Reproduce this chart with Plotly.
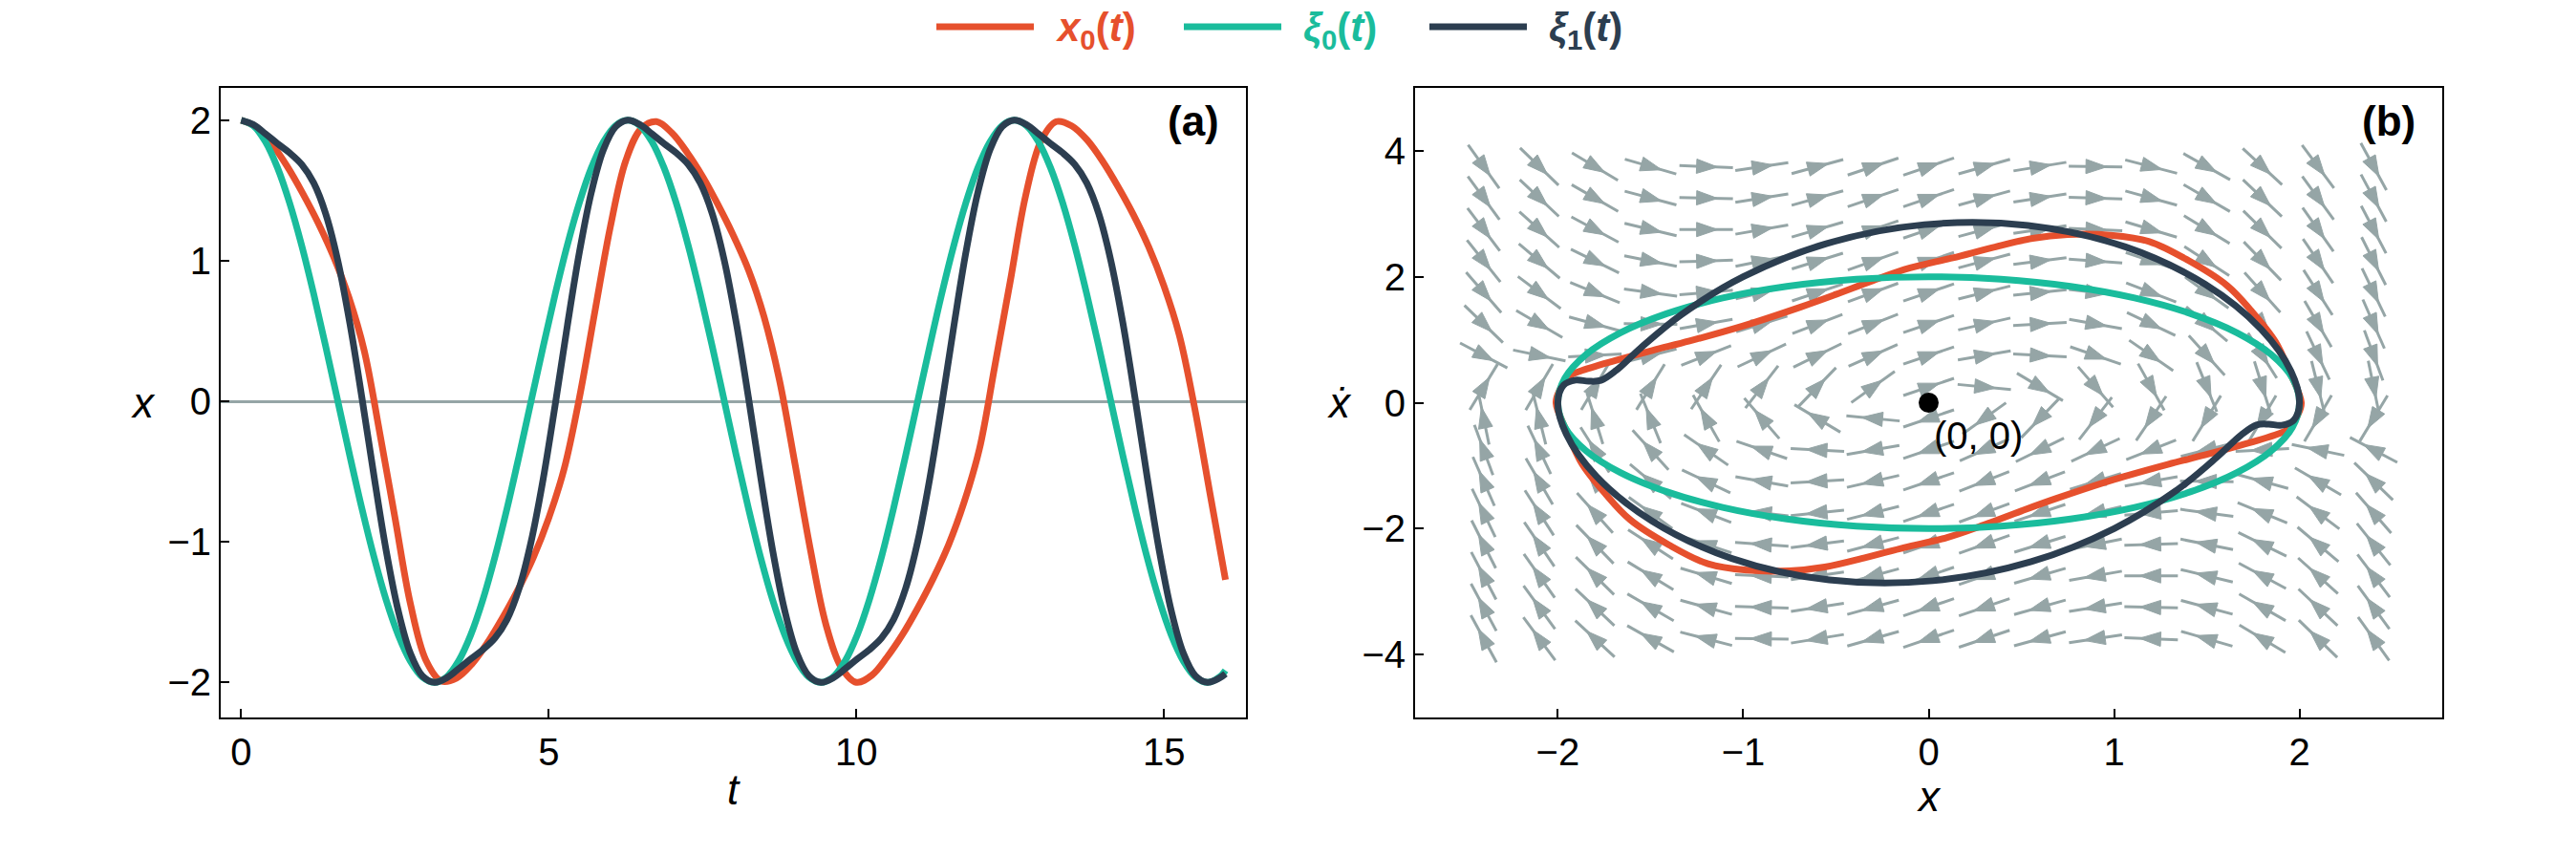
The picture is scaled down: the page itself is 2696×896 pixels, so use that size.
import math
import plotly.graph_objects as go

# ---------------------------------------------------------------- data
# panel (a): time series
t_x0 = [0.0, 0.25, 0.5, 0.75, 1.0, 1.25, 1.5, 1.75, 2.0, 2.25, 2.5, 2.75, 3.0, 3.25, 3.5, 3.75,
        4.0, 4.25, 4.5, 4.75, 5.0, 5.25, 5.5, 5.75, 6.0, 6.25, 6.5, 6.75, 7.0, 7.25, 7.5, 7.75,
        8.0, 8.25, 8.5, 8.75, 9.0, 9.25, 9.5, 9.75, 10.0, 10.25, 10.5, 10.75, 11.0, 11.25, 11.5,
        11.75, 12.0, 12.25, 12.5, 12.75, 13.0, 13.25, 13.5, 13.75, 14.0, 14.25, 14.5, 14.75,
        15.0, 15.25, 15.5, 15.75, 16.0]
x0_vals = [2.00, 1.95, 1.83, 1.67, 1.48, 1.27, 1.03, 0.74, 0.36, -0.22, -0.83, -1.44, -1.84, -1.99,
           -1.97, -1.87, -1.72, -1.54, -1.34, -1.11, -0.83, -0.48, 0.03, 0.64, 1.24, 1.71, 1.94,
           1.99, 1.91, 1.77, 1.60, 1.40, 1.18, 0.93, 0.60, 0.15, -0.44, -1.05, -1.58, -1.89, -2.00,
           -1.95, -1.82, -1.66, -1.47, -1.26, -1.02, -0.72, -0.34, 0.25, 0.85, 1.46, 1.85, 1.99,
           1.96, 1.86, 1.71, 1.53, 1.33, 1.10, 0.82, 0.47, -0.05, -0.66, -1.27]

t_xi = [0.0, 0.196, 0.393, 0.589, 0.785, 0.982, 1.178, 1.374, 1.571, 1.767, 1.963, 2.160, 2.356,
        2.553, 2.749, 2.945, 3.142, 3.338, 3.534, 3.731, 3.927, 4.123, 4.320, 4.516, 4.712, 4.909,
        5.105, 5.301, 5.498, 5.694, 5.890, 6.087, 6.283, 6.480, 6.676, 6.872, 7.069, 7.265, 7.461,
        7.658, 7.854, 8.050, 8.247, 8.443, 8.639, 8.836, 9.032, 9.228, 9.425, 9.621, 9.817, 10.014,
        10.210, 10.407, 10.603, 10.799, 10.996, 11.192, 11.388, 11.585, 11.781, 11.977, 12.174,
        12.370, 12.566, 12.763, 12.959, 13.155, 13.352, 13.548, 13.744, 13.941, 14.137, 14.334,
        14.530, 14.726, 14.923, 15.119, 15.315, 15.512, 15.708, 15.904, 16.0]
xi0_vals = [2.0, 1.962, 1.848, 1.663, 1.414, 1.111, 0.765, 0.390, 0.0, -0.390, -0.765, -1.111,
            -1.414, -1.663, -1.848, -1.962, -2.0, -1.962, -1.848, -1.663, -1.414, -1.111, -0.765,
            -0.390, 0.0, 0.390, 0.765, 1.111, 1.414, 1.663, 1.848, 1.962,
            2.0, 1.962, 1.848, 1.663, 1.414, 1.111, 0.765, 0.390, 0.0, -0.390, -0.765, -1.111,
            -1.414, -1.663, -1.848, -1.962, -2.0, -1.962, -1.848, -1.663, -1.414, -1.111, -0.765,
            -0.390, 0.0, 0.390, 0.765, 1.111, 1.414, 1.663, 1.848, 1.962,
            2.0, 1.962, 1.848, 1.663, 1.414, 1.111, 0.765, 0.390, 0.0, -0.390, -0.765, -1.111,
            -1.414, -1.663, -1.848, -1.962, -2.0, -1.962, -1.915]
xi1_vals = [2.0, 1.969, 1.904, 1.834, 1.768, 1.686, 1.554, 1.334, 1.0, 0.553, 0.023, -0.536,
            -1.061, -1.491, -1.792, -1.954, -2.0, -1.969, -1.904, -1.834, -1.768, -1.686, -1.554,
            -1.334, -1.0, -0.553, -0.023, 0.536, 1.061, 1.491, 1.792, 1.954,
            2.0, 1.969, 1.904, 1.834, 1.768, 1.686, 1.554, 1.334, 1.0, 0.553, 0.023, -0.536,
            -1.061, -1.491, -1.792, -1.954, -2.0, -1.969, -1.904, -1.834, -1.768, -1.686, -1.554,
            -1.334, -1.0, -0.553, -0.023, 0.536, 1.061, 1.491, 1.792, 1.954,
            2.0, 1.969, 1.904, 1.834, 1.768, 1.686, 1.554, 1.334, 1.0, 0.553, 0.023, -0.536,
            -1.061, -1.491, -1.792, -1.954, -2.0, -1.969, -1.939]

# panel (b): phase-plane loops (x, x-dot)
x0_phase_x = [2.01, 1.99, 1.94, 1.88, 1.69, 1.49, 1.29, 1.0, 0.69, 0.5, 0.3, 0.1, -0.13, -0.34,
              -0.56, -0.75, -0.98, -1.19, -1.40, -1.61, -1.74, -1.87, -1.95, -2.01, -1.99, -1.94,
              -1.88, -1.69, -1.49, -1.29, -1.0, -0.69, -0.5, -0.3, -0.1, 0.13, 0.34, 0.56, 0.75,
              0.98, 1.19, 1.40, 1.61, 1.74, 1.87, 1.95, 2.01]
x0_phase_v = [0.0, -0.2, -0.42, -0.50, -0.67, -0.83, -0.98, -1.22, -1.52, -1.72, -1.94, -2.14,
              -2.30, -2.46, -2.61, -2.67, -2.66, -2.56, -2.26, -1.86, -1.46, -0.97, -0.47, 0.0,
              0.2, 0.42, 0.50, 0.67, 0.83, 0.98, 1.22, 1.52, 1.72, 1.94, 2.14, 2.30, 2.46, 2.61,
              2.67, 2.66, 2.56, 2.26, 1.86, 1.46, 0.97, 0.47, 0.0]
xi0_phase_x = [2.0, 1.962, 1.848, 1.663, 1.414, 1.111, 0.765, 0.390, 0.0, -0.390, -0.765, -1.111,
               -1.414, -1.663, -1.848, -1.962, -2.0, -1.962, -1.848, -1.663, -1.414, -1.111,
               -0.765, -0.390, 0.0, 0.390, 0.765, 1.111, 1.414, 1.663, 1.848, 1.962, 2.0]
xi0_phase_v = [0.0, -0.390, -0.765, -1.111, -1.414, -1.663, -1.848, -1.962, -2.0, -1.962, -1.848,
               -1.663, -1.414, -1.111, -0.765, -0.390, 0.0, 0.390, 0.765, 1.111, 1.414, 1.663,
               1.848, 1.962, 2.0, 1.962, 1.848, 1.663, 1.414, 1.111, 0.765, 0.390, 0.0]
xi1_phase_x = [2.0, 1.969, 1.904, 1.834, 1.768, 1.686, 1.554, 1.334, 1.0, 0.553, 0.023, -0.536,
               -1.061, -1.491, -1.792, -1.954, -2.0, -1.969, -1.904, -1.834, -1.768, -1.686,
               -1.554, -1.334, -1.0, -0.553, -0.023, 0.536, 1.061, 1.491, 1.792, 1.954, 2.0]
xi1_phase_v = [0.0, -0.278, -0.359, -0.341, -0.354, -0.511, -0.868, -1.399, -2.0, -2.525, -2.828,
               -2.815, -2.475, -1.881, -1.171, -0.502, 0.0, 0.278, 0.359, 0.341, 0.354, 0.511,
               0.868, 1.399, 2.0, 2.525, 2.828, 2.815, 2.475, 1.881, 1.171, 0.502, 0.0]

# panel (b): direction field samples
field_x = [-2.4, -2.1, -1.8, -1.5, -1.2, -0.9, -0.6, -0.3, 0.0, 0.3, 0.6, 0.9, 1.2, 1.5, 1.8, 2.1, 2.4]
field_y = [-3.75, -3.25, -2.75, -2.25, -1.75, -1.25, -0.75, -0.25, 0.25, 0.75, 1.25, 1.75, 2.25,
           2.75, 3.25, 3.75]
field_u = [-3.75, -3.25, -2.75, -2.25, -1.75, -1.25, -0.75, -0.25, 0.25, 0.75, 1.25, 1.75, 2.25,
           2.75, 3.25, 3.75]
field_v = [
    [20.25, 14.89, 10.2, 6.19, 2.85, 0.19, -1.8, -3.11, -3.75, -3.71, -3.0, -1.61, 0.45, 3.19, 6.6, 10.69, 15.45],
    [17.87, 13.18, 9.08, 5.56, 2.63, 0.28, -1.48, -2.66, -3.25, -3.26, -2.68, -1.52, 0.23, 2.56, 5.48, 8.98, 13.07],
    [15.49, 11.48, 7.96, 4.94, 2.41, 0.38, -1.16, -2.20, -2.75, -2.80, -2.36, -1.42, 0.01, 1.94, 4.36, 7.28, 10.69],
    [13.11, 9.77, 6.84, 4.31, 2.19, 0.47, -0.84, -1.75, -2.25, -2.35, -2.04, -1.33, -0.21, 1.31, 3.24, 5.57, 8.31],
    [10.73, 8.07, 5.72, 3.69, 1.97, 0.57, -0.52, -1.29, -1.75, -1.89, -1.72, -1.23, -0.43, 0.69, 2.12, 3.87, 5.93],
    [8.35, 6.36, 4.6, 3.06, 1.75, 0.66, -0.2, -0.84, -1.25, -1.44, -1.4, -1.14, -0.65, 0.06, 1.0, 2.16, 3.55],
    [5.97, 4.66, 3.48, 2.44, 1.53, 0.76, 0.12, -0.38, -0.75, -0.98, -1.08, -1.04, -0.87, -0.56, -0.12, 0.46, 1.17],
    [3.59, 2.95, 2.36, 1.81, 1.31, 0.85, 0.44, 0.07, -0.25, -0.53, -0.76, -0.95, -1.09, -1.19, -1.24, -1.25, -1.21],
    [1.21, 1.25, 1.24, 1.19, 1.09, 0.95, 0.76, 0.53, 0.25, -0.07, -0.44, -0.85, -1.31, -1.81, -2.36, -2.95, -3.59],
    [-1.17, -0.46, 0.12, 0.56, 0.87, 1.04, 1.08, 0.98, 0.75, 0.38, -0.12, -0.76, -1.53, -2.44, -3.48, -4.66, -5.97],
    [-3.55, -2.16, -1.0, -0.06, 0.65, 1.14, 1.4, 1.44, 1.25, 0.84, 0.2, -0.66, -1.75, -3.06, -4.6, -6.36, -8.35],
    [-5.93, -3.87, -2.12, -0.69, 0.43, 1.23, 1.72, 1.89, 1.75, 1.29, 0.52, -0.57, -1.97, -3.69, -5.72, -8.07, -10.73],
    [-8.31, -5.57, -3.24, -1.31, 0.21, 1.33, 2.04, 2.35, 2.25, 1.75, 0.84, -0.47, -2.19, -4.31, -6.84, -9.77, -13.11],
    [-10.69, -7.28, -4.36, -1.94, -0.01, 1.42, 2.36, 2.80, 2.75, 2.20, 1.16, -0.38, -2.41, -4.94, -7.96, -11.48, -15.49],
    [-13.07, -8.98, -5.48, -2.56, -0.23, 1.52, 2.68, 3.26, 3.25, 2.66, 1.48, -0.28, -2.63, -5.56, -9.08, -13.18, -17.87],
    [-15.45, -10.69, -6.6, -3.19, -0.45, 1.61, 3.0, 3.71, 3.75, 3.11, 1.8, -0.19, -2.85, -6.19, -10.2, -14.89, -20.25],
]

eq_x = [0.0]
eq_y = [0.0]
eq_label = "(0, 0)"

a_xticks = [0, 5, 10, 15]
a_yticks = [-2, -1, 0, 1, 2]
b_xticks = [-2, -1, 0, 1, 2]
b_yticks = [-4, -2, 0, 2, 4]

series_labels = ["<b><i>x</i><sub>0</sub>(<i>t</i>)</b>",
                 "<b><i>ξ</i><sub>0</sub>(<i>t</i>)</b>",
                 "<b><i>ξ</i><sub>1</sub>(<i>t</i>)</b>"]

# ---------------------------------------------------------------- style
W, H = 2696, 896
C_RED = "#E6502D"
C_TEAL = "#1ABC9C"
C_NAVY = "#2C3E50"
C_GRAY = "#95A5A6"
series_colors = [C_RED, C_TEAL, C_NAVY]
FONT = "Liberation Sans, Arial, Helvetica, sans-serif"
LW = 7
TICK_SIZE = 40
TITLE_SIZE = 44

# frame geometry in pixels
A_L, A_R = 231, 1304
B_L, B_R = 1481, 2556
F_T, F_B = 92, 751
a_xrange = [-0.333, 16.333]
a_yrange = [-2.25, 2.23]
b_xrange = [-2.77, 2.77]
b_yrange = [-5.0, 5.0]

fig = go.Figure()

# ---------------------------------------------------------------- panel (a)
fig.add_trace(go.Scatter(x=t_x0, y=x0_vals, mode="lines", line=dict(color=C_RED, width=LW, shape="spline"),
                         xaxis="x", yaxis="y", hoverinfo="skip"))
fig.add_trace(go.Scatter(x=t_xi, y=xi0_vals, mode="lines", line=dict(color=C_TEAL, width=LW, shape="spline"),
                         xaxis="x", yaxis="y", hoverinfo="skip"))
fig.add_trace(go.Scatter(x=t_xi, y=xi1_vals, mode="lines", line=dict(color=C_NAVY, width=LW, shape="spline"),
                         xaxis="x", yaxis="y", hoverinfo="skip"))

# ---------------------------------------------------------------- panel (b) direction field
px_x = (B_R - B_L) / (b_xrange[1] - b_xrange[0])
px_y = (F_B - F_T) / (b_yrange[1] - b_yrange[0])
SEG = 56.0       # segment length in px
TIP = 12.0       # arrow tip ahead of sample point (px)
BASE = 10.0      # arrow base behind sample point (px)
HW = 7.5         # arrow half width (px)
seg_x, seg_y, head_x, head_y = [], [], [], []
for j, yv in enumerate(field_y):
    for i, xv in enumerate(field_x):
        du = field_u[j] * px_x
        dv = field_v[j][i] * px_y
        n = math.hypot(du, dv)
        ux, uy = du / n, dv / n
        seg_x += [xv - ux * SEG / 2 / px_x, xv + ux * SEG / 2 / px_x, None]
        seg_y += [yv - uy * SEG / 2 / px_y, yv + uy * SEG / 2 / px_y, None]
        tx, ty = ux * TIP, uy * TIP
        bx, by = -ux * BASE, -uy * BASE
        nx, ny = -uy * HW, ux * HW
        pts = [(tx, ty), (bx + nx, by + ny), (bx - nx, by - ny), (tx, ty)]
        head_x += [xv + p[0] / px_x for p in pts] + [None]
        head_y += [yv + p[1] / px_y for p in pts] + [None]

fig.add_trace(go.Scatter(x=seg_x, y=seg_y, mode="lines", line=dict(color=C_GRAY, width=3),
                         xaxis="x2", yaxis="y2", hoverinfo="skip"))
fig.add_trace(go.Scatter(x=head_x, y=head_y, mode="lines", fill="toself", fillcolor=C_GRAY,
                         line=dict(color=C_GRAY, width=1), xaxis="x2", yaxis="y2", hoverinfo="skip"))

# ---------------------------------------------------------------- panel (b) curves
fig.add_trace(go.Scatter(x=x0_phase_x, y=x0_phase_v, mode="lines", line=dict(color=C_RED, width=LW, shape="spline"),
                         xaxis="x2", yaxis="y2", hoverinfo="skip"))
fig.add_trace(go.Scatter(x=xi0_phase_x, y=xi0_phase_v, mode="lines", line=dict(color=C_TEAL, width=LW, shape="spline"),
                         xaxis="x2", yaxis="y2", hoverinfo="skip"))
fig.add_trace(go.Scatter(x=xi1_phase_x, y=xi1_phase_v, mode="lines", line=dict(color=C_NAVY, width=LW, shape="spline"),
                         xaxis="x2", yaxis="y2", hoverinfo="skip"))
fig.add_trace(go.Scatter(x=eq_x, y=eq_y, mode="markers", marker=dict(color="black", size=21),
                         xaxis="x2", yaxis="y2", hoverinfo="skip"))

# ---------------------------------------------------------------- axes
def axis(dom, rng, ticks, zl=False):
    return dict(domain=dom, range=rng, tickvals=ticks, showgrid=False,
                zeroline=zl, zerolinecolor=C_GRAY, zerolinewidth=3,
                showline=True, linecolor="black", linewidth=2, mirror=True,
                ticks="inside", ticklen=9, tickwidth=2, tickcolor="black",
                tickfont=dict(family=FONT, size=TICK_SIZE, color="black"), fixedrange=True)

dom_y = [(H - F_B) / H, (H - F_T) / H]
fig.update_layout(
    width=W, height=H, margin=dict(l=0, r=0, t=0, b=0),
    paper_bgcolor="white", plot_bgcolor="white", showlegend=False,
    xaxis=dict(axis([A_L / W, A_R / W], a_xrange, a_xticks), anchor="y"),
    yaxis=dict(axis(dom_y, a_yrange, a_yticks, zl=True), anchor="x"),
    xaxis2=dict(axis([B_L / W, B_R / W], b_xrange, b_xticks), anchor="y2"),
    yaxis2=dict(axis(dom_y, b_yrange, b_yticks), anchor="x2"),
)

ann = []
title_font = dict(family=FONT, size=TITLE_SIZE, color="black")
# axis titles
ann.append(dict(text="<i>x</i>", xref="x domain", yref="y domain", x=(150 - A_L) / (A_R - A_L), y=0.5,
                xanchor="center", yanchor="middle", showarrow=False, font=title_font))
ann.append(dict(text="<i>t</i>", xref="x domain", yref="y domain", x=0.5, y=(F_B - 826) / (F_B - F_T),
                xanchor="center", yanchor="middle", showarrow=False, font=title_font))
ann.append(dict(text="<i>ẋ</i>", xref="x2 domain", yref="y2 domain", x=(1402 - B_L) / (B_R - B_L), y=0.5,
                xanchor="center", yanchor="middle", showarrow=False, font=title_font))
ann.append(dict(text="<i>x</i>", xref="x2 domain", yref="y2 domain", x=0.5, y=(F_B - 833) / (F_B - F_T),
                xanchor="center", yanchor="middle", showarrow=False, font=title_font))
# panel labels
ann.append(dict(text="<b>(a)</b>", xref="x domain", yref="y domain", x=1 - 26 / (A_R - A_L),
                y=(F_B - 126) / (F_B - F_T), xanchor="right", yanchor="middle", showarrow=False,
                font=dict(family=FONT, size=44, color="black")))
ann.append(dict(text="<b>(b)</b>", xref="x2 domain", yref="y2 domain", x=1 - 26 / (B_R - B_L),
                y=(F_B - 126) / (F_B - F_T), xanchor="right", yanchor="middle", showarrow=False,
                font=dict(family=FONT, size=44, color="black")))
# equilibrium label
ann.append(dict(text=eq_label, xref="x2", yref="y2", x=eq_x[0] + 0.02, y=eq_y[0] - 0.52,
                xanchor="left", yanchor="middle", showarrow=False,
                font=dict(family=FONT, size=40, color="black")))

# custom legend
leg_line_px = [(980, 1082), (1239, 1341), (1496, 1598)]
leg_line_y = (H - 28) / H
leg_text_y = (H - 32) / H
shapes = []
for (x_a, x_b), col, lab in zip(leg_line_px, series_colors, series_labels):
    shapes.append(dict(type="line", xref="paper", yref="paper", x0=x_a / W, x1=x_b / W,
                       y0=leg_line_y, y1=leg_line_y, line=dict(color=col, width=7)))
    ann.append(dict(text=lab, xref="paper", yref="paper", x=(x_b + 22) / W, y=leg_text_y,
                    xanchor="left", yanchor="middle", showarrow=False, borderpad=0,
                    font=dict(family=FONT, size=42, color=col)))

fig.update_layout(annotations=ann, shapes=shapes)
fig.write_html("out.html")
